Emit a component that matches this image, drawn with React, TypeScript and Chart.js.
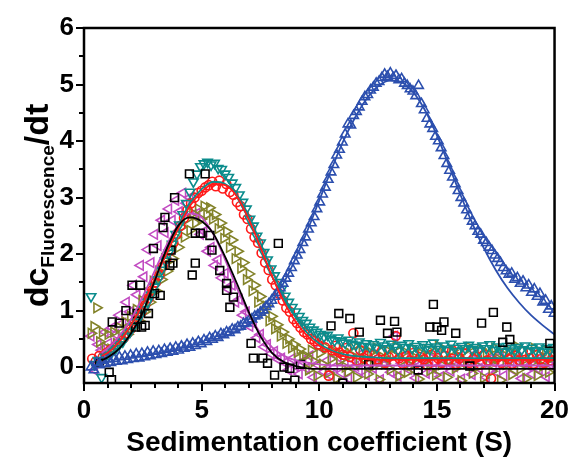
import React, { useEffect, useRef } from 'react';
import { Chart, registerables } from 'chart.js';
Chart.register(...registerables);

// ---------- axis ticks ----------
const X_TICKS = [0, 5, 10, 15, 20];
const Y_TICKS = [0, 1, 2, 3, 4, 5, 6];
const X_TITLE = 'Sedimentation coefficient (S)';
const Y_TITLE_MAIN = 'dc';
const Y_TITLE_SUB = 'Fluorescence';
const Y_TITLE_END = '/dt';

// ---------- measured points (regular x grids) ----------
const TEAL_X0 = 0.3, TEAL_DX = 0.15;
const tealY = [
  1.25, 0.05, 0.12, -0.18, 0.18, 0.22, 0.28, 0.33, 0.40, 0.45,
  0.55, 0.62, 0.72, 0.80, 0.92, 1.02, 1.15, 1.28, 1.42, 1.55,
  1.72, 1.88, 2.02, 2.18, 2.35, 2.52, 2.70, 2.90, 3.10, 3.28,
  3.42, 3.55, 3.60, 3.63, 3.58, 3.61, 3.52, 3.50, 3.42, 3.36,
  3.26, 3.18, 3.05, 2.92, 2.80, 2.62, 2.50, 2.32, 2.20, 2.03,
  1.90, 1.74, 1.62, 1.50, 1.38, 1.26, 1.15, 1.06, 0.98, 0.90,
  0.83, 0.78, 0.71, 0.66, 0.62, 0.58, 0.54, 0.57, 0.50, 0.47,
  0.52, 0.46, 0.43, 0.48, 0.41, 0.39, 0.45, 0.37, 0.42, 0.36,
  0.40, 0.34, 0.44, 0.38, 0.33, 0.41, 0.36, 0.30, 0.39, 0.35,
  0.42, 0.33, 0.37, 0.29, 0.40, 0.35, 0.31, 0.43, 0.36, 0.32,
  0.38, 0.30, 0.41, 0.34, 0.28, 0.37, 0.33, 0.39, 0.31, 0.35,
  0.29, 0.38, 0.33, 0.40, 0.30, 0.36, 0.32, 0.27, 0.37, 0.33,
  0.29, 0.35, 0.31, 0.38, 0.28, 0.34, 0.30, 0.36, 0.27, 0.33, 0.30, 0.35,
];

const RED_X0 = 0.35, RED_DX = 0.15;
const redY = [
  0.15, 0.10, 0.20, 0.18, 0.25, 0.30, 0.34, 0.40, 0.46, 0.52,
  0.60, 0.68, 0.78, 0.88, 0.98, 1.10, 1.22, 1.36, 1.50, 1.62,
  1.78, 1.92, 2.06, 2.20, 2.36, 2.50, 2.64, 2.78, 2.90, 3.00,
  3.08, 3.12, 3.18, 3.22, 3.28, 3.20, 3.30, 3.16, 3.24, 3.10,
  3.05, 2.92, 2.85, 2.70, 2.62, 2.45, 2.30, 2.20, 2.02, 1.85,
  1.72, 1.55, 1.45, 1.30, 1.18, 1.05, 0.98, 0.85, 0.78, 0.70,
  0.62, 0.58, 0.50, 0.46, 0.40, 0.52, 0.35, -0.15, 0.30, 0.38,
  0.26, 0.22, 0.34, 0.18, 0.60, 0.12, 0.30, 0.16, 0.20, 0.10,
  0.22, 0.14, 0.28, 0.08, 0.18, 0.24, 0.55, 0.16, 0.06, 0.20,
  0.12, 0.25, 0.08, 0.18, 0.14, 0.04, 0.22, 0.10, 0.16, 0.08,
  0.20, 0.12, 0.30, 0.06, 0.16, 0.10, 0.24, 0.08, 0.14, 0.18,
  0.05, 0.22, 0.12, -0.20, 0.10, 0.18, 0.08, 0.26, 0.14, 0.06,
  0.20, 0.12, 0.28, 0.10, 0.16, 0.06, 0.22, 0.14, 0.08, 0.18,
  0.12, 0.20,
];

const MAG_X0 = 0.3, MAG_DX = 0.15;
const magentaY = [
  0.55, -0.05, 0.40, 0.30, 0.62, 0.42, 0.70, 0.58, 0.92, 0.78,
  1.15, 0.98, 1.45, 1.28, 1.80, 1.60, 2.08, 1.85, 2.35, 2.15,
  2.60, 2.38, 2.80, 2.60, 2.95, 2.75, 3.08, 2.90, 3.00, 2.70,
  2.72, 2.35, 2.40, 2.05, 2.12, 1.80, 1.90, 1.58, 1.66, 1.38,
  1.45, 1.15, 1.20, 0.92, 0.98, 0.72, 0.78, 0.52, 0.58, 0.36,
  0.40, 0.24, 0.28, 0.14, 0.16,
  0.08, -0.05, 0.15, 0.02, -0.12, 0.10, -0.02, 0.20, -0.18, 0.05,
  0.35, -0.08, 0.12, -0.15, 0.00, 0.18, -0.10, 0.06, -0.20, 0.14,
  0.02, -0.06, 0.25, -0.14, 0.08, -0.02, 0.16, -0.22, 0.04, 0.12,
  -0.09, 0.55, -0.16, 0.07, 0.20, -0.04, 0.10, -0.19, 0.03, 0.15,
  -0.11, 0.09, -0.03, 0.22, -0.17, 0.05, 0.13, -0.07, 0.01, 0.18,
  -0.21, 0.06, 0.11, -0.13, 0.24, -0.02, 0.08, -0.18, 0.14, 0.00,
  -0.09, 0.19, -0.15, 0.04, 0.10, -0.06, 0.16, -0.20, 0.07, 0.02,
  -0.12, 0.13, -0.04, 0.09, -0.17, 0.05, 0.12,
];

const OLIVE_X0 = 0.3, OLIVE_DX = 0.12;
const oliveY = [
  0.60, 0.72, 1.05, 0.45, 0.62, 0.35, 0.58, 0.32, 0.62, 0.42,
  0.70, 0.50, 0.80, 0.58, 0.90, 0.70, 1.02, 0.82, 1.18, 0.98,
  1.32, 1.15, 1.52, 1.35, 1.70, 1.55, 1.92, 1.70, 2.12, 1.92,
  2.30, 2.12, 2.48, 2.30, 2.62, 2.42, 2.72, 2.55, 2.80, 2.62,
  2.85, 2.70, 2.82, 2.62, 2.70, 2.45, 2.55, 2.28, 2.40, 2.12,
  2.25, 1.92, 2.05, 1.75, 1.85, 1.55, 1.65, 1.35, 1.45, 1.15,
  1.25, 0.98, 1.08, 0.82, 0.90, 0.68, 0.75, 0.55, 0.62, 0.42,
  0.50, 0.34, 0.40, 0.26, 0.32, 0.20,
  0.20, -0.05, 0.30, 0.10, -0.15, 0.25, 0.05, 0.35, -0.10, 0.15,
  0.28, -0.20, 0.12, 0.32, 0.00, -0.08, 0.22, 0.38, -0.18, 0.08,
  0.30, 0.14, -0.12, 0.26, 0.02, 0.34, -0.22, 0.18, 0.06, 0.29,
  -0.04, 0.21, 0.36, -0.16, 0.11, 0.27, -0.09, 0.03, 0.33, 0.16,
  -0.21, 0.24, 0.09, 0.31, -0.06, 0.19, -0.14, 0.37, 0.04, 0.23,
  -0.18, 0.13, 0.30, -0.02, 0.20, -0.24, 0.28, 0.07, 0.35, -0.11,
  0.17, 0.01, 0.32, -0.19, 0.25, 0.10, -0.07, 0.34, 0.15, -0.23,
  0.22, 0.05, 0.29, -0.13, 0.18, 0.36, -0.03, 0.12, -0.20, 0.27,
  0.08, 0.33, -0.15, 0.21, 0.02, 0.30, -0.09, 0.16, 0.25,
];

const BLUE_X0 = 0.3, BLUE_DX = 0.12;
const blueY = [
  0.00, -0.05, 0.08, 0.04, 0.12, 0.06, 0.14, 0.08, 0.15, 0.10,
  0.18, 0.11, 0.19, 0.13, 0.21, 0.15, 0.23, 0.16, 0.24, 0.18,
  0.26, 0.20, 0.28, 0.22, 0.29, 0.24, 0.31, 0.26, 0.33, 0.28,
  0.35, 0.30, 0.37, 0.33, 0.40, 0.35, 0.42, 0.38, 0.45, 0.41,
  0.48, 0.45, 0.52, 0.49, 0.55, 0.52, 0.59, 0.57, 0.62, 0.61,
  0.67, 0.66, 0.71, 0.72, 0.77, 0.78, 0.83, 0.85, 0.90, 0.92,
  0.97, 1.01, 1.07, 1.12, 1.18, 1.25, 1.32, 1.40, 1.48, 1.57,
  1.66, 1.76, 1.88, 1.98, 2.08, 2.20, 2.30, 2.44, 2.55, 2.66,
  2.80, 2.92, 3.06, 3.18, 3.32, 3.45, 3.58, 3.75, 3.85, 3.98,
  4.12, 4.30, 4.28, 4.45, 4.52, 4.60, 4.70, 4.78, 4.82, 4.90,
  4.95, 5.02, 5.05, 5.12, 5.18, 5.14, 5.20, 5.12, 5.16, 5.08,
  5.10, 5.02, 4.98, 4.92, 4.88, 4.80, 4.98, 4.66, 4.55, 4.40,
  4.30, 4.22, 4.08, 4.00, 3.88, 3.74, 3.60, 3.48, 3.36, 3.24,
  3.12, 3.00, 2.90, 2.78, 2.68, 2.58, 2.50, 2.40, 2.35, 2.24,
  2.20, 2.12, 2.06, 1.98, 1.92, 1.85, 1.76, 1.70, 1.64, 1.66,
  1.55, 1.58, 1.48, 1.52, 1.40, 1.45, 1.32, 1.38, 1.25, 1.30,
  1.15, 1.18, 1.02, 1.08, 0.95,
];

const blackX = [
  0.66, 1.07, 1.17, 1.2, 1.5, 1.78, 2.04, 2.2, 2.26, 2.4,
  2.45, 2.6, 2.74, 2.95, 3.0, 3.24, 3.36, 3.44, 3.65, 3.7,
  3.78, 3.85, 4.48, 4.6, 4.73, 4.73, 4.95, 5.15, 5.35, 5.44,
  5.77, 6.06, 6.06, 6.2, 6.35, 7.1, 7.2, 7.6, 7.8, 8.1,
  8.26, 8.5, 8.6, 8.75, 8.96, 9.2, 10.5, 10.83, 11.0, 11.3,
  11.7, 12.6, 12.9, 13.2, 13.3, 14.7, 14.85, 15.0, 15.2, 15.3,
  15.8, 16.9, 17.4, 17.8, 17.97, 18.1, 19.8, 12.1, 14.2, 16.4,
];
const blackY = [
  0.07, -0.09, -0.22, 0.80, 0.78, 1.00, 1.45, 0.71, 0.95, 1.45,
  0.71, 0.74, 0.95, 2.10, 1.30, 1.27, 2.47, 2.65, 1.80, 2.07,
  1.84, 3.00, 3.42, 1.63, 1.84, 2.37, 2.37, 3.42, 2.33, 2.07,
  1.71, 1.48, 1.36, 1.06, 1.24, 0.42, 0.16, 0.16, 0.07, -0.14,
  2.19, 0.00, -0.28, -0.02, -0.23, 0.05, 0.73, 0.95, -0.28, 0.86,
  0.62, 0.83, 0.60, 0.81, 0.62, 0.71, 1.11, 0.71, 0.65, 0.80,
  0.60, 0.78, 0.97, 0.44, 0.71, 0.49, 0.42, 0.05, -0.05, 0.02,
];

// ---------- fitted curves ----------
const fitX = [0.75, 1, 1.5, 2, 2.5, 3, 3.5, 4, 4.5, 5, 5.5, 6, 6.5, 7, 7.5, 8, 8.5, 9, 9.5, 10,
  10.5, 11, 11.5, 12, 12.5, 13, 13.5, 14, 14.5, 15, 15.5, 16, 16.5, 17, 17.5, 18, 18.5, 19, 19.5, 20];
const blackFit = [0.12, 0.17, 0.33, 0.60, 0.97, 1.52, 2.08, 2.50, 2.65, 2.58, 2.36, 1.95, 1.48, 0.98, 0.55, 0.25, 0.09, 0.02, -0.02, -0.03,
  -0.03, -0.03, -0.03, -0.03, -0.03, -0.03, -0.03, -0.03, -0.03, -0.03, -0.03, -0.03, -0.03, -0.03, -0.03, -0.03, -0.03, -0.03, -0.03, -0.03];
const redFit = [0.20, 0.25, 0.45, 0.75, 1.12, 1.55, 2.00, 2.45, 2.85, 3.10, 3.24, 3.22, 3.02, 2.62, 2.12, 1.60, 1.15, 0.80, 0.55, 0.38,
  0.27, 0.20, 0.16, 0.14, 0.13, 0.13, 0.13, 0.13, 0.13, 0.13, 0.13, 0.13, 0.13, 0.13, 0.13, 0.13, 0.13, 0.13, 0.13, 0.13];
const tealFit = [0.20, 0.26, 0.45, 0.74, 1.10, 1.55, 2.02, 2.50, 2.90, 3.15, 3.28, 3.24, 3.05, 2.68, 2.20, 1.70, 1.25, 0.88, 0.60, 0.42,
  0.30, 0.23, 0.20, 0.18, 0.17, 0.16, 0.16, 0.16, 0.16, 0.16, 0.16, 0.16, 0.16, 0.16, 0.16, 0.16, 0.16, 0.16, 0.16, 0.16];
const magentaFit = [0.25, 0.33, 0.55, 0.85, 1.25, 1.70, 2.15, 2.52, 2.72, 2.65, 2.35, 1.90, 1.40, 0.95, 0.60, 0.35, 0.20, 0.12, 0.08, 0.05,
  0.03, 0.03, 0.03, 0.03, 0.03, 0.03, 0.03, 0.03, 0.03, 0.03, 0.03, 0.03, 0.03, 0.03, 0.03, 0.03, 0.03, 0.03, 0.03, 0.03];
const blueFitX = [6, 6.5, 7, 7.5, 8, 8.5, 9, 9.5, 10, 10.5, 11, 11.5, 12, 12.5, 13, 13.5, 14, 14.5, 15, 15.5,
  16, 16.5, 17, 17.5, 18, 18.5, 19, 19.5, 20];
const blueFit = [0.55, 0.63, 0.75, 0.92, 1.17, 1.50, 1.93, 2.42, 2.95, 3.48, 3.98, 4.40, 4.74, 4.97, 5.07, 5.04, 4.86, 4.54, 4.10, 3.58,
  3.05, 2.55, 2.10, 1.72, 1.40, 1.14, 0.92, 0.74, 0.58];

// ---------- helpers ----------
const onGrid = (x0: number, dx: number, ys: number[]) => ys.map((y, i) => ({ x: +(x0 + dx * i).toFixed(3), y }));
const pairs = (xs: number[], ys: number[]) => xs.map((x, i) => ({ x, y: ys[i] }));

const FONT = "'Liberation Sans', Arial, Helvetica, sans-serif";
const C_BLACK = '#000000';
const C_RED = '#ff1a1a';
const C_TEAL = '#0b8c8c';
const C_MAG = '#c24cc2';
const C_OLIVE = '#83832a';
const C_BLUE = '#2c4fae';

const framePlugin = {
  id: 'frame',
  afterDatasetsDraw(chart: any) {
    const { ctx, chartArea: a, scales } = chart;
    const xs = scales.x, ys = scales.y;
    ctx.save();
    ctx.strokeStyle = '#000';
    ctx.lineWidth = 2.5;
    ctx.strokeRect(a.left, a.top, a.right - a.left, a.bottom - a.top);
    ctx.lineWidth = 2;
    ctx.beginPath();
    for (let v = 0; v <= 20; v += 1) {
      const px = Math.round(xs.getPixelForValue(v));
      const len = X_TICKS.includes(v) ? 8 : 5;
      ctx.moveTo(px, a.bottom);
      ctx.lineTo(px, a.bottom + len);
    }
    for (let k = 0; k <= 12; k++) {
      const v = k / 2;
      const py = Math.round(ys.getPixelForValue(v));
      const len = Y_TICKS.includes(v) ? 8 : 5;
      ctx.moveTo(a.left, py);
      ctx.lineTo(a.left - len, py);
    }
    ctx.stroke();
    ctx.restore();
  },
  afterDraw(chart: any) {
    const { ctx, chartArea: a } = chart;
    ctx.save();
    ctx.fillStyle = '#000';
    // x title
    ctx.font = `bold 28px ${FONT}`;
    ctx.textAlign = 'center';
    ctx.textBaseline = 'alphabetic';
    ctx.fillText(X_TITLE, (a.left + a.right) / 2, 451);
    // y title with subscript
    const mainFont = `bold 34px ${FONT}`;
    const subFont = `bold 19px ${FONT}`;
    ctx.font = mainFont;
    const w1 = ctx.measureText(Y_TITLE_MAIN).width;
    const w3 = ctx.measureText(Y_TITLE_END).width;
    ctx.font = subFont;
    const w2 = ctx.measureText(Y_TITLE_SUB).width;
    const total = w1 + w2 + w3;
    const cy = (a.top + a.bottom) / 2;
    ctx.translate(48, cy);
    ctx.rotate(-Math.PI / 2);
    ctx.textAlign = 'left';
    let pos = -total / 2;
    ctx.font = mainFont;
    ctx.fillText(Y_TITLE_MAIN, pos, 0);
    pos += w1;
    ctx.font = subFont;
    ctx.fillText(Y_TITLE_SUB, pos, 6);
    pos += w2;
    ctx.font = mainFont;
    ctx.fillText(Y_TITLE_END, pos, 0);
    ctx.restore();
  },
};

export default function App() {
  const ref = useRef<HTMLCanvasElement | null>(null);
  useEffect(() => {
    if (!ref.current) return;
    const pts = (color: string, style: string, rot: number, radius: number, data: any[], order: number) => ({
      data,
      showLine: false,
      pointStyle: style,
      rotation: rot,
      pointRadius: radius,
      pointBorderWidth: 1.6,
      pointBorderColor: color,
      pointBackgroundColor: 'rgba(0,0,0,0)',
      borderColor: color,
      order,
    });
    const line = (color: string, data: any[], order: number, width = 1.8) => ({
      data,
      showLine: true,
      pointRadius: 0,
      borderColor: color,
      borderWidth: width,
      cubicInterpolationMode: 'monotone',
      fill: false,
      order,
    });
    const tickFont = { family: FONT, size: 26, weight: 'bold' as const };
    const chart = new Chart(ref.current, {
      type: 'scatter',
      data: {
        datasets: [
          line(C_BLACK, pairs(fitX, blackFit), 0),
          line(C_RED, pairs(fitX, redFit), 1),
          line(C_TEAL, pairs(fitX, tealFit), 2),
          line(C_MAG, pairs(fitX, magentaFit), 3),
          line(C_BLUE, pairs(blueFitX, blueFit), 1),
          pts(C_BLUE, 'triangle', 0, 5.5, onGrid(BLUE_X0, BLUE_DX, blueY), 5),
          pts(C_BLACK, 'rect', 0, 5.5, pairs(blackX, blackY), 6),
          pts(C_TEAL, 'triangle', 180, 5.5, onGrid(TEAL_X0, TEAL_DX, tealY), 7),
          pts(C_RED, 'circle', 0, 4.5, onGrid(RED_X0, RED_DX, redY), 8),
          pts(C_OLIVE, 'triangle', 90, 5.5, onGrid(OLIVE_X0, OLIVE_DX, oliveY), 9),
          pts(C_MAG, 'triangle', -90, 5.5, onGrid(MAG_X0, MAG_DX, magentaY), 10),
        ] as any,
      },
      options: {
        animation: false,
        responsive: false,
        devicePixelRatio: 1,
        layout: { padding: { left: 0, right: 15, top: 28, bottom: 0 } },
        plugins: { legend: { display: false }, tooltip: { enabled: false } },
        scales: {
          x: {
            type: 'linear',
            min: 0,
            max: 20,
            grid: { display: false, drawTicks: false },
            border: { display: false },
            ticks: { font: tickFont, color: '#000', padding: 12, maxRotation: 0 },
            afterBuildTicks: (s: any) => { s.ticks = X_TICKS.map((v) => ({ value: v })); },
            afterFit: (s: any) => { s.height = 74; },
          },
          y: {
            type: 'linear',
            min: -0.28,
            max: 6,
            grid: { display: false, drawTicks: false },
            border: { display: false },
            ticks: { font: tickFont, color: '#000', padding: 10 },
            afterBuildTicks: (s: any) => { s.ticks = Y_TICKS.map((v) => ({ value: v })); },
            afterFit: (s: any) => { s.width = 84; },
          },
        },
      } as any,
      plugins: [framePlugin],
    });
    return () => chart.destroy();
  }, []);
  return (
    <div style={{ position: 'fixed', left: 0, top: 0, width: 581, height: 457, background: '#fff' }}>
      <canvas ref={ref} width={581} height={457} style={{ display: 'block' }} />
    </div>
  );
}
